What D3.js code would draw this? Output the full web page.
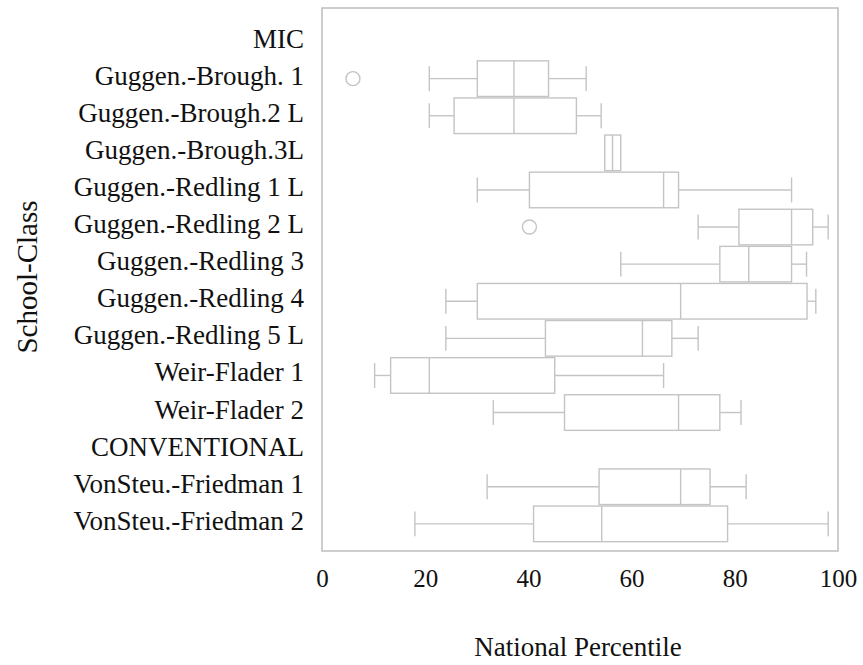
<!DOCTYPE html>
<html>
<head>
<meta charset="utf-8">
<script src="https://cdn.jsdelivr.net/npm/d3@7"></script>
<style>
  body { margin: 0; background: #ffffff; }
  text { font-family: "Liberation Serif", "Times New Roman", serif; fill: #111; }
</style>
</head>
<body>
<svg id="chart" width="863" height="665"></svg>
<script>
// School classes, top to bottom (group headers carry no box)
const categories = [
  "MIC",
  "Guggen.-Brough. 1",
  "Guggen.-Brough.2 L",
  "Guggen.-Brough.3L",
  "Guggen.-Redling 1 L",
  "Guggen.-Redling 2 L",
  "Guggen.-Redling 3",
  "Guggen.-Redling 4",
  "Guggen.-Redling 5 L",
  "Weir-Flader 1",
  "Weir-Flader 2",
  "CONVENTIONAL",
  "VonSteu.-Friedman 1",
  "VonSteu.-Friedman 2"
];

// Five-number summaries (national percentile); null = header row
const whiskerLow  = [null, 20.8, 20.8, 54.8, 30.1, 72.9, 57.9, 24.0, 24.0, 10.2, 33.2, null, 32.0, 18.0];
const quartile1   = [null, 30.1, 25.6, 54.8, 40.2, 80.8, 77.1, 30.1, 43.3, 13.3, 47.0, null, 53.7, 41.0];
const medians     = [null, 37.2, 37.2, 56.3, 66.2, 91.0, 82.7, 69.5, 62.1, 20.8, 69.1, null, 69.5, 54.2];
const quartile3   = [null, 43.9, 49.3, 57.9, 69.1, 95.1, 91.0, 94.0, 67.8, 45.1, 77.1, null, 75.2, 78.6];
const whiskerHigh = [null, 51.2, 54.1, 57.9, 91.0, 98.1, 93.9, 95.7, 72.9, 66.2, 81.2, null, 82.2, 98.1];
const outliers    = [[], [6.0], [], [], [], [40.2], [], [], [], [], [], [], [], []];

const xTicks = [0, 20, 40, 60, 80, 100];
const xTitle = "National Percentile";
const yTitle = "School-Class";

const svg = d3.select("#chart");
const plot = { left: 322, right: 838, top: 8, bottom: 551 };
const lineColor = "#c4c4c4";

const x = d3.scaleLinear().domain([0, 100]).range([plot.left, plot.right]);
const y = d3.scaleBand()
  .domain(categories)
  .range([23, 542.4])
  .paddingInner(0.04)
  .paddingOuter(0.02);

const rows = categories.map((name, i) => ({
  name,
  lo: whiskerLow[i], q1: quartile1[i], med: medians[i],
  q3: quartile3[i], hi: whiskerHigh[i], out: outliers[i]
}));

// frame around the plotting area
svg.append("rect")
  .attr("x", plot.left).attr("y", plot.top)
  .attr("width", plot.right - plot.left).attr("height", plot.bottom - plot.top)
  .attr("fill", "none").attr("stroke", "#bdbdbd").attr("stroke-width", 1.5);

const boxes = svg.append("g")
  .selectAll("g")
  .data(rows.filter(d => d.med !== null))
  .join("g")
  .attr("fill", "none")
  .attr("stroke", lineColor)
  .attr("stroke-width", 1.4);

const cy = d => y(d.name) + y.bandwidth() / 2;
const capHalf = () => y.bandwidth() * 0.35;

// whiskers
boxes.append("line")
  .attr("x1", d => x(d.lo)).attr("x2", d => x(d.q1))
  .attr("y1", cy).attr("y2", cy);
boxes.append("line")
  .attr("x1", d => x(d.q3)).attr("x2", d => x(d.hi))
  .attr("y1", cy).attr("y2", cy);
// whisker caps
boxes.filter(d => d.lo < d.q1).append("line")
  .attr("x1", d => x(d.lo)).attr("x2", d => x(d.lo))
  .attr("y1", d => cy(d) - capHalf()).attr("y2", d => cy(d) + capHalf());
boxes.filter(d => d.hi > d.q3).append("line")
  .attr("x1", d => x(d.hi)).attr("x2", d => x(d.hi))
  .attr("y1", d => cy(d) - capHalf()).attr("y2", d => cy(d) + capHalf());
// box
boxes.append("rect")
  .attr("x", d => x(d.q1)).attr("width", d => x(d.q3) - x(d.q1))
  .attr("y", d => y(d.name)).attr("height", y.bandwidth())
  .attr("fill", "#ffffff");
// median
boxes.append("line")
  .attr("x1", d => x(d.med)).attr("x2", d => x(d.med))
  .attr("y1", d => y(d.name)).attr("y2", d => y(d.name) + y.bandwidth());
// outliers
boxes.selectAll("circle")
  .data(d => d.out.map(v => ({ v, row: d })))
  .join("circle")
  .attr("cx", d => x(d.v)).attr("cy", d => cy(d.row))
  .attr("r", 7);

// x axis labels (no tick marks)
const xAxis = svg.append("g")
  .attr("transform", `translate(0,${plot.bottom})`)
  .call(d3.axisBottom(x).tickValues(xTicks).tickSize(0).tickPadding(0).tickFormat(d3.format("d")));
xAxis.select(".domain").remove();
xAxis.selectAll("text")
  .attr("y", 0).attr("dy", null)
  .attr("transform", "translate(0,36)")
  .style("font-family", '"Liberation Serif", serif')
  .style("font-size", "25px").attr("fill", "#111");

// y axis labels
const yAxis = svg.append("g")
  .attr("transform", `translate(${plot.left},0)`)
  .call(d3.axisLeft(y).tickSize(0).tickPadding(18));
yAxis.select(".domain").remove();
yAxis.selectAll("text")
  .attr("dy", "0.22em")
  .style("font-family", '"Liberation Serif", serif')
  .style("font-size", "27px").attr("fill", "#111");

// axis titles
svg.append("text")
  .attr("x", 578).attr("y", 656)
  .attr("text-anchor", "middle")
  .style("font-size", "27px")
  .text(xTitle);

svg.append("text")
  .attr("transform", "translate(37,277) rotate(-90)")
  .attr("text-anchor", "middle")
  .style("font-size", "29px")
  .text(yTitle);
</script>
</body>
</html>
